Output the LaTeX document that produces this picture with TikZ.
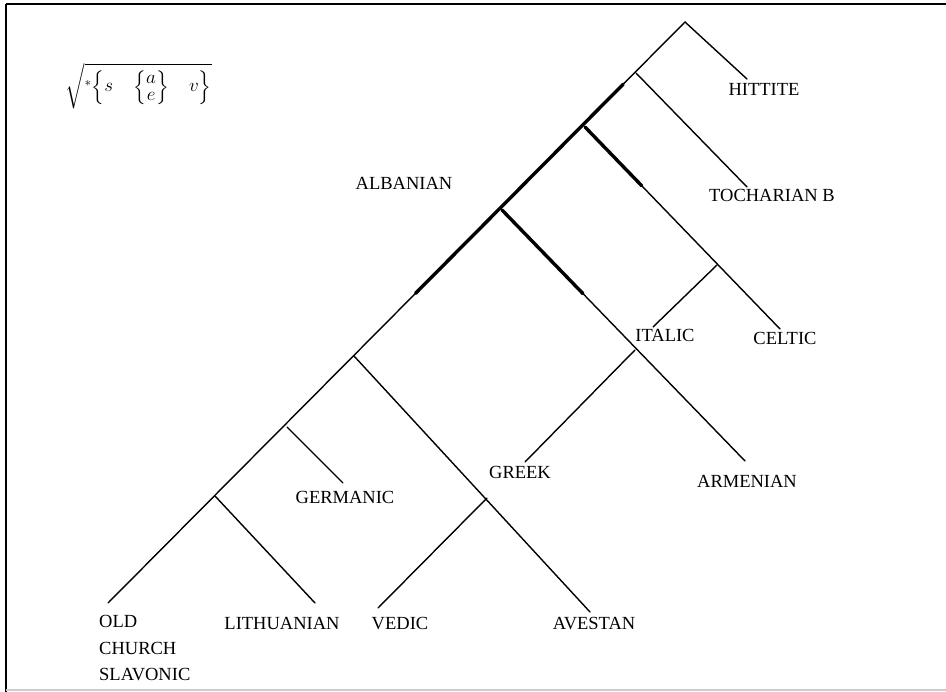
\documentclass[tikz,border=0pt]{standalone}
\usepackage{amsmath}
\usepackage{fontspec}
\setmainfont{Liberation Serif}
\usetikzlibrary{calc}
\begin{document}
\begin{tikzpicture}[x=1pt,y=-1pt,
  branch/.style={line width=1.4pt,line cap=round},
  heavy/.style={line width=3.4pt,line cap=round},
  lang/.style={inner sep=0pt,anchor=base,font=\fontsize{18.5}{22}\selectfont},
  langl/.style={lang,anchor=base west},
  frameline/.style={line width=1.5pt}]
\useasboundingbox (0,0) rectangle (946,692);
\fill[white] (0,0) rectangle (946,692);
% frame
\draw[frameline] (6,4) -- (946,4);
\draw[frameline] (6,4) -- (6,692);
\draw[line width=1.2pt,black!20] (6,690) -- (946,690);

% root formula
\node[inner sep=0pt] (formula) at (138.5,86)
  {\resizebox*{146pt}{46pt}{\fontsize{22}{26}\selectfont
   $\sqrt{{}^{*}\Bigl\{s\quad\Bigl\{\begin{matrix}a\\[-8pt] e\end{matrix}\Bigr\}\quad v\Bigr\}}$}};

% tree junctions and leaf ends
\coordinate (root) at (685,22);
\coordinate (eOCS) at (108,603);
\coordinate (jToch) at (636,73);
\coordinate (jCel) at (585,127);
\coordinate (jArm) at (502,210);
\coordinate (jAv) at (354,356);
\coordinate (jGer) at (287,427);
\coordinate (jLit) at (215,496);
\coordinate (eHit) at (747,79);
\coordinate (eToch) at (747,187);
\coordinate (jIta) at (717,265);
\coordinate (eCel) at (780,329);
\coordinate (eIta) at (653,327);
\coordinate (jGrk) at (635,350);
\coordinate (eArm) at (745,461);
\coordinate (eGrk) at (525,462);
\coordinate (jVed) at (487,498);
\coordinate (eAv) at (590,612);
\coordinate (eVed) at (378,608);
\coordinate (eGer) at (343,483);
\coordinate (eLit) at (315,603);

% connectors
\draw[branch] (root) -- (eOCS);
\draw[branch] (root) -- (eHit);
\draw[branch] (jToch) -- (eToch);
\draw[branch] (jCel) -- (eCel);
\draw[branch] (jIta) -- (eIta);
\draw[branch] (jArm) -- (eArm);
\draw[branch] (jGrk) -- (eGrk);
\draw[branch] (jAv) -- (eAv);
\draw[branch] (jVed) -- (eVed);
\draw[branch] (jGer) -- (eGer);
\draw[branch] (jLit) -- (eLit);

% emphasised segments
\draw[heavy] ($(root)!0.107!(eOCS)$) -- ($(root)!0.467!(eOCS)$);
\draw[heavy] (jCel) -- ($(jCel)!0.29!(eCel)$);
\draw[heavy] (jArm) -- ($(jArm)!0.333!(eArm)$);

% language labels
\node[lang] (hit) at (764,96) {HITTITE};
\node[lang] (toch) at (772,202) {TOCHARIAN B};
\node[lang] (alb) at (404,190) {ALBANIAN};
\node[lang] (ita) at (665,342) {ITALIC};
\node[lang] (cel) at (785,345) {CELTIC};
\node[lang] (arm) at (747,488) {ARMENIAN};
\node[lang] (grk) at (520,479) {GREEK};
\node[lang] (ger) at (345,504) {GERMANIC};
\node[lang] (lit) at (282,630) {LITHUANIAN};
\node[lang] (ved) at (400,630) {VEDIC};
\node[lang] (av) at (594,630) {AVESTAN};
\node[langl] (ocs1) at (99,627) {OLD};
\node[langl] (ocs2) at (99,654) {CHURCH};
\node[langl] (ocs3) at (99,680) {SLAVONIC};
\end{tikzpicture}
\end{document}
